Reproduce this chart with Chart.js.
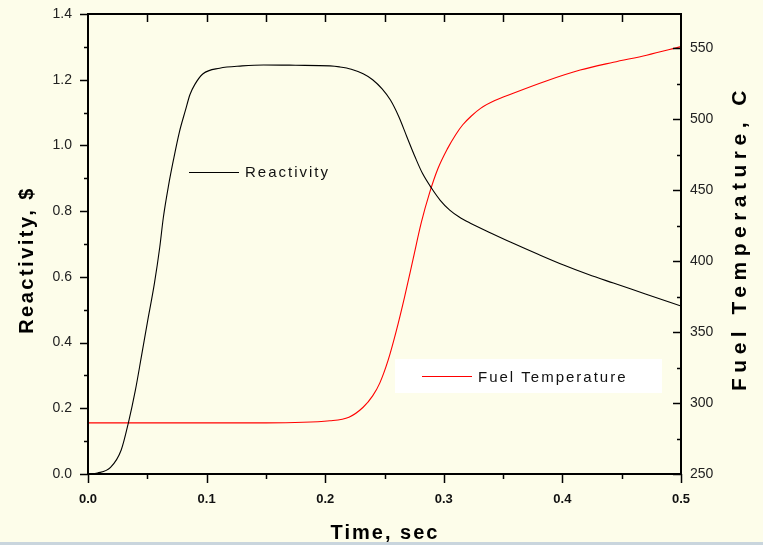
<!DOCTYPE html>
<html>
<head>
<meta charset="utf-8">
<script src="https://cdn.jsdelivr.net/npm/chart.js@4.4.0/dist/chart.umd.min.js"></script>
<style>
html, body { margin: 0; padding: 0; background: #c9d5dd; }
#wrap { width: 763px; height: 542px; background: #fdfdea; }
</style>
</head>
<body>
<div id="wrap"><canvas id="chart" width="763" height="542"></canvas></div>
<script>
// reactivity curve (left axis, $)
const timeReact = [0, 0.008, 0.019, 0.028, 0.034, 0.040, 0.045, 0.050, 0.056, 0.0605, 0.0635, 0.068, 0.072,
  0.077, 0.082, 0.086, 0.090, 0.097, 0.111, 0.130, 0.148, 0.175, 0.204, 0.212, 0.222, 0.232, 0.240, 0.248,
  0.255, 0.262, 0.269, 0.276, 0.282, 0.290, 0.297, 0.305, 0.313, 0.322, 0.340, 0.358, 0.380, 0.401, 0.422,
  0.443, 0.470, 0.5];
const reactivity = [0, 0.003, 0.02, 0.073, 0.155, 0.256, 0.357, 0.46, 0.58, 0.69, 0.78, 0.88, 0.955,
  1.04, 1.105, 1.155, 1.185, 1.218, 1.235, 1.242, 1.245, 1.244, 1.242, 1.239, 1.232, 1.218, 1.200, 1.172,
  1.138, 1.088, 1.025, 0.963, 0.915, 0.868, 0.833, 0.803, 0.782, 0.764, 0.733, 0.703, 0.668, 0.636, 0.607,
  0.581, 0.548, 0.511];

// fuel temperature curve (right axis, C)
const timeFuel = [0, 0.10, 0.15, 0.204, 0.22, 0.232, 0.240, 0.246, 0.253, 0.260, 0.267, 0.274, 0.281,
  0.288, 0.295, 0.303, 0.310, 0.316, 0.323, 0.331, 0.343, 0.358, 0.387, 0.415, 0.443, 0.471, 0.5];
const fuelTemp = [286, 286, 286, 287.5, 290, 297, 305, 314, 330, 351, 375, 401, 427,
  448, 465, 479, 489, 496, 502, 507.5, 513, 518, 527, 534.5, 540, 545, 551];

const xTickValues = [0, 0.1, 0.2, 0.3, 0.4, 0.5];
const leftTickValues = [0, 0.2, 0.4, 0.6, 0.8, 1.0, 1.2, 1.4];
const rightTickValues = [250, 300, 350, 400, 450, 500, 550];

const FONT = 'Arial, "Liberation Sans", sans-serif';

function line(ctx, x1, y1, x2, y2) {
  ctx.beginPath();
  ctx.moveTo(x1, y1);
  ctx.lineTo(x2, y2);
  ctx.stroke();
}

// frame, tick marks, titles and the two in-plot labels
const decor = {
  id: 'decor',
  beforeDatasetsDraw(chart) {
    const ctx = chart.ctx;
    ctx.save();
    ctx.fillStyle = '#ffffff';
    ctx.fillRect(395, 359, 267, 34);
    ctx.restore();
  },
  afterDraw(chart) {
    const ctx = chart.ctx, a = chart.chartArea;
    const sx = chart.scales.x, sy = chart.scales.y, sy2 = chart.scales.y2;
    ctx.save();
    ctx.strokeStyle = '#000';
    ctx.lineWidth = 2;
    ctx.strokeRect(a.left, a.top, a.right - a.left, a.bottom - a.top);

    ctx.lineWidth = 1.5;
    for (let i = 0; i <= 10; i++) {
      const px = Math.round(sx.getPixelForValue(i * 0.05)) + 0.5;
      line(ctx, px, a.bottom, px, a.bottom + (i % 2 === 0 ? 9 : 5));
      if (i > 0 && i < 10) line(ctx, px, a.top, px, a.top + 8);
    }
    for (let i = 0; i <= 14; i++) {
      const py = Math.round(sy.getPixelForValue(i * 0.1)) + 0.5;
      line(ctx, a.left - (i % 2 === 0 ? 8 : 4), py, a.left, py);
    }
    for (let v = 250; v <= 550; v += 25) {
      const py = Math.round(sy2.getPixelForValue(v)) + 0.5;
      line(ctx, a.right - (v % 50 === 0 ? 8 : 4), py, a.right, py);
    }

    // axis titles
    ctx.fillStyle = '#000';
    ctx.textAlign = 'center';
    ctx.textBaseline = 'middle';
    ctx.font = 'bold 20px ' + FONT;
    ctx.letterSpacing = '2px';
    ctx.fillText('Time, sec', 385, 533);

    ctx.letterSpacing = '2.5px';
    ctx.save();
    ctx.translate(27, 260);
    ctx.rotate(-Math.PI / 2);
    ctx.fillText('Reactivity, $', 0, 0);
    ctx.restore();

    ctx.font = 'bold 21px ' + FONT;
    ctx.letterSpacing = '5.5px';
    ctx.save();
    ctx.translate(740, 238);
    ctx.rotate(-Math.PI / 2);
    ctx.fillText('Fuel Temperature, C', 0, 0);
    ctx.restore();

    // in-plot labels
    ctx.lineWidth = 1;
    ctx.font = '15px ' + FONT;
    ctx.letterSpacing = '2px';
    ctx.textAlign = 'left';
    ctx.strokeStyle = '#000';
    line(ctx, 189, 172.5, 239, 172.5);
    ctx.fillStyle = '#111';
    ctx.fillText('Reactivity', 245, 173);
    ctx.strokeStyle = '#ff0000';
    line(ctx, 422, 376.5, 472, 376.5);
    ctx.fillText('Fuel Temperature', 478, 378);
    ctx.restore();
  }
};

new Chart(document.getElementById('chart'), {
  type: 'line',
  data: {
    datasets: [{
      label: 'Reactivity',
      data: timeReact.map((t, i) => ({ x: t, y: reactivity[i] })),
      yAxisID: 'y',
      borderColor: '#000000',
      borderWidth: 1.1,
      pointRadius: 0,
      cubicInterpolationMode: 'monotone'
    }, {
      label: 'Fuel Temperature',
      data: timeFuel.map((t, i) => ({ x: t, y: fuelTemp[i] })),
      yAxisID: 'y2',
      borderColor: '#ff0000',
      borderWidth: 1.1,
      pointRadius: 0,
      cubicInterpolationMode: 'monotone'
    }]
  },
  options: {
    responsive: false,
    animation: false,
    layout: { padding: { top: 14, left: 0, right: 0, bottom: 0 } },
    plugins: {
      legend: { display: false },
      tooltip: { enabled: false }
    },
    scales: {
      x: {
        type: 'linear',
        min: 0,
        max: 0.5,
        afterBuildTicks: s => { s.ticks = xTickValues.map(v => ({ value: v })); },
        afterFit: s => { s.height = 68; s.paddingLeft = 0; s.paddingRight = 0; },
        grid: { display: false, drawTicks: false },
        border: { display: false },
        ticks: {
          padding: 18,
          color: '#111',
          font: { family: FONT, size: 13, weight: 'bold' },
          callback: v => v.toFixed(1)
        }
      },
      y: {
        position: 'left',
        min: 0,
        max: 1.4,
        afterBuildTicks: s => { s.ticks = leftTickValues.map(v => ({ value: v })); },
        afterFit: s => { s.width = 88; s.paddingTop = 0; s.paddingBottom = 0; },
        grid: { display: false, drawTicks: false },
        border: { display: false },
        ticks: {
          padding: 16,
          color: '#222',
          font: { family: FONT, size: 14 },
          callback: v => v.toFixed(1)
        }
      },
      y2: {
        position: 'right',
        min: 250,
        max: 574,
        afterBuildTicks: s => { s.ticks = rightTickValues.map(v => ({ value: v })); },
        afterFit: s => { s.width = 82; s.paddingTop = 0; s.paddingBottom = 0; },
        grid: { display: false, drawTicks: false },
        border: { display: false },
        ticks: {
          padding: 9,
          color: '#222',
          font: { family: FONT, size: 14 },
          callback: v => String(v)
        }
      }
    }
  },
  plugins: [decor]
});
</script>
</body>
</html>
